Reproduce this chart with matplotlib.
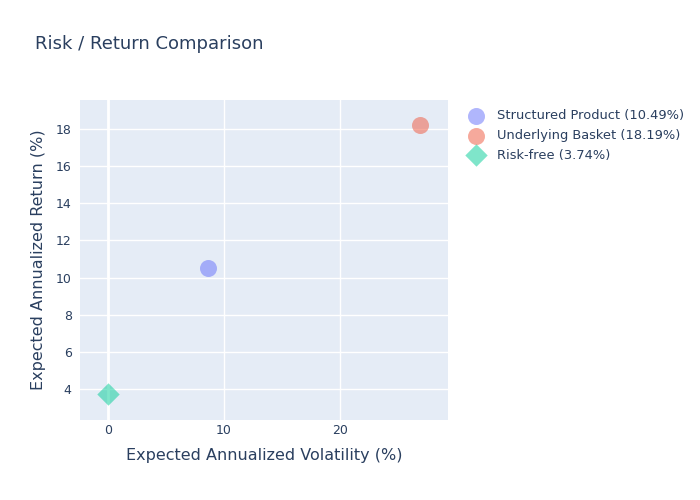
import matplotlib
matplotlib.use('Agg')
import matplotlib.pyplot as plt

# datos
nombres = ['Structured Product', 'Underlying Basket', 'Risk-free']
volatilidad = [8.6, 26.9, 0.0]
retorno = [10.49, 18.19, 3.74]
colores = ['#636efa', '#EF553B', '#00cc96']
marcadores = ['o', 'o', 'D']
xticks = [0, 10, 20]
yticks = [4, 6, 8, 10, 12, 14, 16, 18]

texto = '#2a3f5f'
plt.rcParams['font.family'] = ['DejaVu Sans']

fig = plt.figure(figsize=(7, 5), dpi=100)
ax = fig.add_axes([80/700, 80/500, 368/700, 320/500])
ax.set_facecolor('#E5ECF6')

for n, x, y, c, m in zip(nombres, volatilidad, retorno, colores, marcadores):
    tam = 150 if m == 'o' else 130
    ax.scatter([x], [y], s=tam, c=c, alpha=0.5, marker=m, linewidths=0,
               label='%s (%.2f%%)' % (n, y), zorder=3)

ax.set_xlim(-2.41, 29.3)
ax.set_ylim(2.33, 19.56)
ax.set_xticks(xticks)
ax.set_yticks(yticks)
ax.grid(True, color='white', linewidth=1)
ax.set_axisbelow(True)
ax.axvline(0, color='white', linewidth=2, zorder=1)
for sp in ax.spines.values():
    sp.set_visible(False)
ax.tick_params(length=0, colors=texto, labelsize=9)
ax.tick_params(axis='x', pad=3)
ax.tick_params(axis='y', pad=6)

ax.set_xlabel('Expected Annualized Volatility (%)', fontsize=11.5, color=texto, labelpad=8)
ax.set_ylabel('Expected Annualized Return (%)', fontsize=11.5, color=texto, labelpad=7)

fig.text(35/700, 1 - 44/500, 'Risk / Return Comparison', fontsize=13, color=texto,
         va='center', ha='left')

leg = ax.legend(loc='upper left', bbox_to_anchor=(1.02, 0.995), frameon=False,
                fontsize=9.35, labelcolor=texto, handletextpad=0.6, labelspacing=0.52,
                borderaxespad=0.2)

fig.savefig('out.png', dpi=100)
